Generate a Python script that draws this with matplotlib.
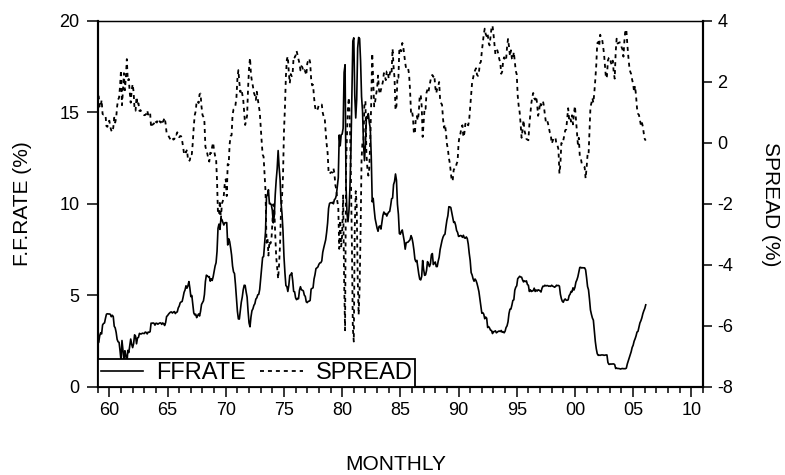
"""Federal funds rate and term spread, monthly 1959-2006"""
import numpy as np
import matplotlib
matplotlib.use("Agg")
import matplotlib.pyplot as plt
from matplotlib.ticker import MultipleLocator, FuncFormatter

plt.rcParams['font.family'] = ['Liberation Sans', 'DejaVu Sans']
plt.rcParams['axes.unicode_minus'] = False

start_year = 1959  # first observation is January 1959, one value per month

ffrate = [
    2.48, 2.43, 2.80, 2.96, 2.90, 3.39, 3.47, 3.50, 3.76, 3.98, 4.00, 3.99,
    3.99, 3.97, 3.84, 3.92, 3.85, 3.32, 3.23, 2.98, 2.60, 2.47, 2.44, 1.98,
    1.45, 2.54, 2.02, 1.49, 1.98, 1.73, 1.17, 2.00, 1.88, 2.26, 2.62, 2.33,
    2.15, 2.37, 2.85, 2.78, 2.36, 2.68, 2.71, 2.93, 2.90, 2.90, 2.94, 2.93,
    2.92, 3.00, 2.98, 2.90, 3.00, 2.99, 3.02, 3.49, 3.48, 3.50, 3.48, 3.38,
    3.48, 3.48, 3.43, 3.47, 3.50, 3.50, 3.42, 3.50, 3.45, 3.36, 3.52, 3.85,
    3.90, 3.98, 4.04, 4.09, 4.10, 4.04, 4.09, 4.12, 4.01, 4.08, 4.10, 4.32,
    4.42, 4.60, 4.65, 4.67, 4.90, 5.17, 5.30, 5.53, 5.40, 5.53, 5.76, 5.40,
    4.94, 5.00, 4.53, 4.05, 3.94, 3.98, 3.79, 3.90, 3.99, 3.88, 4.13, 4.51,
    4.61, 4.71, 5.05, 5.76, 6.11, 6.07, 6.02, 6.03, 5.78, 5.91, 5.82, 6.02,
    6.30, 6.61, 6.79, 7.41, 8.67, 8.90, 8.61, 9.19, 9.15, 9.00, 8.85, 8.97,
    8.98, 8.98, 7.76, 8.10, 7.95, 7.61, 7.21, 6.61, 6.29, 6.20, 5.60, 4.90,
    4.14, 3.72, 3.71, 4.16, 4.63, 4.91, 5.31, 5.56, 5.55, 5.20, 4.91, 4.14,
    3.50, 3.29, 3.83, 4.17, 4.27, 4.46, 4.55, 4.80, 4.87, 5.04, 5.06, 5.33,
    5.94, 6.58, 7.09, 7.12, 7.84, 8.49, 10.40, 10.50, 10.78, 10.01, 10.03, 9.95,
    9.65, 8.97, 9.35, 10.51, 11.31, 11.93, 12.92, 12.01, 11.34, 10.06, 9.45, 8.53,
    7.13, 6.24, 5.54, 5.49, 5.22, 5.55, 6.10, 6.14, 6.24, 5.82, 5.22, 5.20,
    4.87, 4.77, 4.84, 4.82, 5.29, 5.48, 5.31, 5.29, 5.25, 5.02, 4.95, 4.65,
    4.61, 4.68, 4.69, 4.73, 5.35, 5.39, 5.42, 5.90, 6.14, 6.47, 6.51, 6.56,
    6.70, 6.78, 6.79, 6.89, 7.36, 7.60, 7.81, 8.04, 8.45, 8.96, 9.76, 10.03,
    10.07, 10.06, 10.09, 10.01, 10.24, 10.29, 10.47, 10.94, 11.43, 13.77, 13.18, 13.78,
    13.82, 14.13, 17.19, 17.61, 10.98, 9.47, 9.03, 9.61, 10.87, 12.81, 15.85, 18.90,
    19.08, 15.93, 14.70, 15.72, 18.52, 19.10, 19.04, 17.82, 15.87, 15.08, 13.31, 12.37,
    13.22, 14.78, 14.68, 14.94, 14.45, 14.15, 12.59, 10.12, 10.31, 9.71, 9.20, 8.95,
    8.68, 8.51, 8.77, 8.80, 8.63, 8.98, 9.37, 9.56, 9.45, 9.48, 9.34, 9.47,
    9.56, 9.59, 9.91, 10.29, 10.32, 11.06, 11.23, 11.64, 11.30, 9.99, 9.43, 8.38,
    8.35, 8.50, 8.58, 8.27, 7.97, 7.53, 7.88, 7.90, 7.92, 7.99, 8.05, 8.27,
    8.14, 7.86, 7.48, 6.99, 6.85, 6.92, 6.56, 6.17, 5.89, 5.85, 6.04, 6.91,
    6.43, 6.10, 6.13, 6.37, 6.85, 6.73, 6.58, 6.73, 7.22, 7.29, 6.69, 6.77,
    6.83, 6.58, 6.58, 6.87, 7.09, 7.51, 7.75, 8.01, 8.19, 8.30, 8.35, 8.76,
    9.12, 9.36, 9.85, 9.84, 9.81, 9.53, 9.24, 8.99, 9.02, 8.84, 8.55, 8.45,
    8.23, 8.24, 8.28, 8.26, 8.18, 8.29, 8.15, 8.13, 8.20, 8.11, 7.81, 7.31,
    6.91, 6.25, 6.12, 5.91, 5.78, 5.90, 5.82, 5.66, 5.45, 5.21, 4.81, 4.43,
    4.03, 4.06, 3.98, 3.73, 3.82, 3.76, 3.25, 3.30, 3.22, 3.10, 3.09, 2.92,
    3.02, 3.03, 3.07, 2.96, 3.00, 3.04, 3.06, 3.03, 3.09, 2.99, 3.02, 2.96,
    3.05, 3.25, 3.34, 3.56, 4.01, 4.25, 4.26, 4.47, 4.73, 4.76, 5.29, 5.45,
    5.53, 5.92, 5.98, 6.05, 6.01, 6.00, 5.85, 5.74, 5.80, 5.76, 5.80, 5.60,
    5.56, 5.22, 5.31, 5.22, 5.24, 5.27, 5.40, 5.22, 5.30, 5.24, 5.31, 5.29,
    5.25, 5.19, 5.39, 5.51, 5.50, 5.56, 5.52, 5.54, 5.54, 5.50, 5.52, 5.50,
    5.56, 5.51, 5.49, 5.45, 5.49, 5.56, 5.54, 5.55, 5.51, 5.07, 4.83, 4.68,
    4.63, 4.76, 4.81, 4.74, 4.74, 4.76, 4.99, 5.07, 5.22, 5.20, 5.42, 5.30,
    5.45, 5.73, 5.85, 6.02, 6.27, 6.53, 6.54, 6.50, 6.52, 6.51, 6.51, 6.40,
    5.98, 5.49, 5.31, 4.80, 4.21, 3.97, 3.77, 3.65, 3.07, 2.49, 2.09, 1.82,
    1.73, 1.74, 1.73, 1.75, 1.75, 1.75, 1.73, 1.74, 1.75, 1.75, 1.34, 1.24,
    1.24, 1.26, 1.25, 1.26, 1.26, 1.22, 1.01, 1.03, 1.01, 1.01, 1.00, 0.98,
    1.00, 1.01, 1.00, 1.00, 1.00, 1.03, 1.26, 1.43, 1.61, 1.76, 1.93, 2.16,
    2.28, 2.50, 2.63, 2.79, 3.00, 3.04, 3.26, 3.50, 3.62, 3.78, 4.00, 4.16,
    4.29, 4.49,
]

spread = [
    1.54, 1.53, 1.19, 1.16, 1.41, 0.95, 0.93, 0.93, 0.92, 0.55, 0.53, 0.70,
    0.73, 0.52, 0.41, 0.36, 0.50, 0.83, 0.67, 0.82, 1.20, 1.42, 1.49, 1.86,
    2.39, 1.24, 1.72, 2.29, 1.73, 2.15, 2.75, 2.04, 2.10, 1.66, 1.32, 1.73,
    1.93, 1.67, 1.08, 1.06, 1.51, 1.23, 1.30, 1.05, 1.08, 1.03, 0.98, 0.93,
    0.91, 0.92, 0.95, 1.07, 0.93, 1.00, 1.00, 0.51, 0.60, 0.61, 0.64, 0.75,
    0.69, 0.67, 0.79, 0.76, 0.70, 0.67, 0.77, 0.69, 0.75, 0.83, 0.63, 0.33,
    0.29, 0.23, 0.17, 0.11, 0.11, 0.17, 0.11, 0.13, 0.28, 0.27, 0.35, 0.30,
    0.19, 0.23, 0.22, 0.08, -0.12, -0.36, -0.28, -0.31, -0.22, -0.52, -0.60, -0.56,
    -0.36, -0.37, 0.01, 0.54, 0.91, 1.04, 1.37, 1.38, 1.31, 1.60, 1.62, 1.19,
    0.92, 0.85, 0.69, -0.12, -0.24, -0.35, -0.52, -0.61, -0.32, -0.33, -0.12, 0.01,
    -0.26, -0.42, -0.49, -1.24, -2.35, -2.33, -1.89, -2.50, -1.99, -1.90, -1.71, -1.32,
    -1.19, -1.74, -0.69, -0.71, -0.04, 0.23, 0.25, 0.92, 1.10, 1.13, 1.24, 1.49,
    2.10, 2.39, 1.99, 1.67, 1.76, 1.61, 1.42, 1.02, 0.59, 0.73, 0.90, 1.79,
    2.45, 2.79, 2.24, 2.02, 1.86, 1.65, 1.56, 1.41, 1.68, 1.44, 1.22, 1.03,
    0.52, 0.06, -0.38, -0.45, -0.99, -1.59, -3.27, -3.10, -3.69, -3.22, -3.30, -3.21,
    -2.66, -2.01, -2.14, -3.00, -3.73, -4.10, -4.45, -3.97, -3.30, -2.16, -1.77, -1.10,
    0.37, 1.15, 2.19, 2.74, 2.84, 2.31, 1.96, 2.26, 2.19, 2.32, 2.83, 2.80,
    2.87, 3.02, 2.89, 2.74, 2.61, 2.38, 2.52, 2.48, 2.34, 2.39, 2.34, 2.22,
    2.60, 2.71, 2.77, 2.64, 2.11, 1.89, 1.91, 1.50, 1.20, 1.05, 1.07, 1.13,
    1.26, 1.25, 1.25, 1.26, 0.99, 0.86, 0.83, 0.37, -0.03, -0.32, -0.95, -1.02,
    -0.97, -0.96, -0.97, -0.83, -0.99, -1.38, -1.52, -1.91, -2.10, -3.47, -2.53, -3.39,
    -3.02, -1.72, -4.44, -6.14, -0.80, 0.31, 1.22, 1.49, 0.64, -1.06, -3.17, -6.06,
    -6.51, -2.74, -1.58, -2.04, -4.42, -5.63, -4.76, -2.88, -0.55, 0.07, 0.08, 1.35,
    1.37, -0.35, -0.82, -1.07, -0.83, 0.15, 1.36, 2.94, 2.03, 1.20, 1.35, 1.59,
    1.78, 2.21, 1.74, 1.60, 1.75, 1.87, 2.01, 2.29, 2.20, 2.06, 2.35, 2.36,
    2.11, 2.25, 2.41, 2.34, 3.09, 2.50, 2.13, 1.08, 1.22, 2.17, 2.14, 3.12,
    3.03, 3.01, 3.28, 3.16, 2.88, 2.63, 2.43, 2.43, 2.45, 2.25, 1.73, 0.99,
    1.05, 0.84, 0.30, 0.31, 0.86, 0.88, 0.74, 1.00, 1.56, 1.58, 1.21, 0.20,
    0.65, 1.15, 1.12, 1.65, 1.76, 1.67, 1.87, 2.03, 2.20, 2.23, 2.17, 2.22,
    1.84, 1.63, 1.79, 1.85, 2.00, 1.41, 1.31, 1.25, 0.79, 0.50, 0.61, 0.35,
    -0.03, -0.19, -0.49, -0.66, -0.95, -1.25, -1.22, -0.88, -0.83, -0.83, -0.68, -0.61,
    -0.02, 0.23, 0.31, 0.53, 0.58, 0.19, 0.32, 0.62, 0.69, 0.61, 0.58, 0.77,
    1.18, 1.60, 1.99, 2.13, 2.29, 2.38, 2.45, 2.24, 2.20, 2.32, 2.61, 2.66,
    3.00, 3.28, 3.56, 3.75, 3.57, 3.50, 3.59, 3.29, 3.20, 3.49, 3.78, 3.85,
    3.58, 3.23, 2.91, 3.01, 3.04, 2.92, 2.75, 2.65, 2.27, 2.34, 2.70, 2.81,
    2.70, 2.72, 3.14, 3.41, 3.17, 2.85, 3.04, 2.77, 2.73, 2.98, 2.67, 2.36,
    2.25, 1.55, 1.22, 1.01, 0.62, 0.17, 0.43, 0.75, 0.40, 0.28, 0.13, 0.11,
    0.09, 0.59, 0.96, 1.29, 1.50, 1.64, 1.47, 1.42, 1.53, 1.29, 0.89, 1.01,
    1.33, 1.23, 1.30, 1.38, 1.21, 0.93, 0.70, 0.76, 0.67, 0.53, 0.36, 0.31,
    -0.02, 0.06, 0.16, 0.19, 0.16, -0.06, -0.08, -0.21, -1.00, -0.70, 0.00, -0.03,
    0.09, 0.24, 0.42, 0.44, 0.80, 1.14, 0.80, 0.87, 0.70, 0.91, 0.61, 0.98,
    1.21, 0.79, 0.41, -0.03, 0.17, -0.43, -0.49, -0.67, -0.72, -0.77, -0.79, -1.16,
    -0.82, -0.39, -0.42, 0.34, 1.18, 1.31, 1.47, 1.32, 1.66, 2.08, 2.56, 3.27,
    3.31, 3.17, 3.55, 3.46, 3.41, 3.18, 2.92, 2.52, 2.12, 2.19, 2.71, 2.79,
    2.81, 2.64, 2.56, 2.70, 2.31, 2.11, 2.97, 3.42, 3.26, 3.28, 3.30, 3.29,
    3.15, 3.07, 2.83, 3.35, 3.72, 3.70, 3.24, 2.85, 2.52, 2.34, 2.26, 2.07,
    1.94, 1.67, 1.87, 1.55, 1.14, 0.96, 0.92, 0.76, 0.58, 0.68, 0.54, 0.31,
    0.13, 0.08,
]

t = start_year + np.arange(len(ffrate)) / 12.0

fig = plt.figure(figsize=(7.85, 4.75), dpi=100)
ax = fig.add_axes([0.1245, 0.1853, 0.7710, 0.7705])
ax2 = ax.twinx()

ln1, = ax.plot(t, ffrate, color='black', linewidth=1.2)
ln2, = ax2.plot(t, spread, color='black', linewidth=1.3, linestyle=(0, (2.2, 2.2)))

ax.set_xlim(1959, 2011)
ax.set_ylim(0, 20)
ax2.set_ylim(-8, 4)
ax.set_yticks([0, 5, 10, 15, 20])
ax2.set_yticks(range(-8, 5, 2))
ax.xaxis.set_major_locator(MultipleLocator(5))
ax.xaxis.set_minor_locator(MultipleLocator(1))
ax.xaxis.set_major_formatter(FuncFormatter(lambda v, p: f"{int(round(v)) % 100:02d}"))

ax.tick_params(axis='x', which='major', length=7, width=1.1, labelsize=13, pad=4)
ax.tick_params(axis='x', which='minor', length=4, width=1.1)
ax.tick_params(axis='y', length=8, width=1.1, labelsize=13, pad=5)
ax2.tick_params(axis='y', length=6.5, width=1.1, labelsize=13, pad=4)

for a in (ax, ax2):
    for side in ('left', 'right', 'bottom'):
        a.spines[side].set_linewidth(1.5)
    a.spines['top'].set_linewidth(0.9)

ax.set_ylabel('F.F.RATE (%)', fontsize=15, va='center')
ax.yaxis.set_label_coords(-0.125, 0.5)
ax2.set_ylabel('SPREAD (%)', fontsize=15, rotation=-90, va='center')
ax2.yaxis.set_label_coords(1.111, 0.5)
ax.set_xlabel('MONTHLY', fontsize=15, va='center')
ax.xaxis.set_label_coords(0.493, -0.212)

leg = ax2.legend([ln1, ln2], ['FFRATE', 'SPREAD'], loc='lower left',
                 bbox_to_anchor=(0, 0), borderaxespad=0, ncol=2, fontsize=17,
                 fancybox=False, edgecolor='black', framealpha=1,
                 handlelength=1.8, handletextpad=0.55, columnspacing=0.6,
                 borderpad=0.12)
leg.get_frame().set_linewidth(1.3)
leg.set_zorder(10)

plt.savefig("out.png", dpi=100)
